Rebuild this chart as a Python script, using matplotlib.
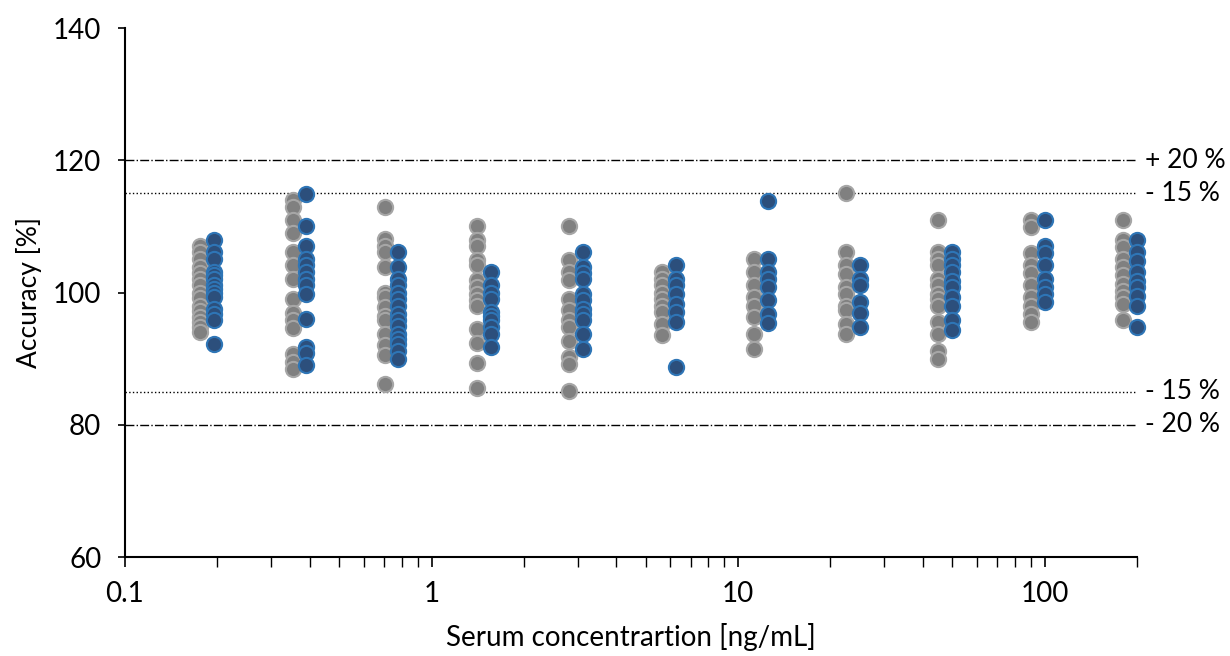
import matplotlib
matplotlib.use("Agg")
from matplotlib import pyplot as plt
from matplotlib.ticker import LogLocator, NullFormatter, FixedLocator, FixedFormatter
import numpy as np

plt.rcParams['font.family'] = ['Lato', 'DejaVu Sans']

# nominal concentrations (ng/mL)
conc_gray = [0.176, 0.352, 0.703, 1.406, 2.81, 5.63, 11.25, 22.5, 45, 90, 180]
conc_blue = [0.195, 0.39, 0.78, 1.56, 3.125, 6.25, 12.5, 25, 50, 100, 200]

# accuracy values (%) per concentration level
acc_gray = [
    [107.1, 106.1, 105.0, 103.9, 102.9, 102.0, 101.1, 100.0, 99.1, 98.0, 97.2, 96.3, 95.5, 94.8, 94.0],
    [114.0, 112.9, 111.0, 109.0, 106.1, 104.1, 102.1, 99.0, 96.9, 95.9, 94.7, 90.7, 89.5, 88.5],
    [113.0, 108.1, 107.1, 106.1, 103.9, 100.0, 99.3, 97.8, 96.5, 95.9, 93.8, 92.0, 90.5, 86.1],
    [110.0, 108.0, 107.0, 104.9, 104.1, 101.9, 100.8, 99.8, 98.9, 98.0, 94.5, 92.3, 89.3, 85.6],
    [110.0, 104.9, 103.1, 101.9, 99.0, 97.3, 95.8, 94.8, 92.7, 90.2, 89.2, 85.1],
    [103.1, 102.1, 101.1, 100.0, 99.0, 98.0, 97.0, 95.3, 93.5],
    [105.1, 103.1, 101.1, 99.3, 98.0, 96.3, 93.8, 91.5],
    [115.0, 106.1, 104.1, 102.8, 100.8, 99.8, 98.0, 97.3, 95.3, 93.8],
    [111.0, 106.1, 105.1, 104.1, 102.1, 101.1, 99.8, 99.0, 98.0, 95.5, 93.8, 91.2, 90.0],
    [111.0, 109.9, 105.9, 104.1, 102.9, 101.1, 99.3, 98.0, 96.8, 95.5],
    [111.0, 108.0, 106.9, 105.1, 103.9, 102.6, 101.3, 100.3, 99.3, 98.3, 95.8],
]
acc_blue = [
    [108.0, 106.1, 105.0, 103.1, 102.6, 102.1, 101.1, 100.5, 100.0, 99.3, 97.5, 96.8, 95.8, 92.2],
    [114.9, 110.0, 107.1, 105.1, 104.1, 103.1, 102.1, 101.1, 99.8, 96.0, 91.8, 90.8, 89.0],
    [106.1, 103.9, 102.1, 101.1, 100.0, 99.0, 98.0, 96.8, 95.8, 95.0, 93.8, 93.0, 92.2, 91.2, 90.0],
    [103.1, 101.1, 100.0, 99.0, 97.0, 96.5, 95.8, 94.8, 93.8, 91.7],
    [106.1, 103.9, 102.9, 102.1, 99.8, 98.8, 97.5, 96.8, 95.8, 93.8, 91.5],
    [104.1, 102.1, 101.1, 99.8, 98.3, 97.0, 95.5, 88.7],
    [113.9, 105.1, 103.1, 102.1, 100.8, 98.8, 96.8, 95.4],
    [104.1, 102.1, 101.1, 98.5, 96.9, 94.8],
    [106.1, 105.1, 104.1, 103.1, 101.8, 100.8, 99.3, 98.0, 95.8, 94.3],
    [111.0, 107.0, 105.9, 104.1, 102.1, 100.9, 99.8, 98.5],
    [108.0, 106.1, 104.8, 103.1, 101.8, 100.8, 99.5, 97.9, 94.8],
]

limits = [120, 115, 85, 80]
limit_labels = ['+ 20 %', '- 15 %', '- 15 %', '- 20 %']
limit_styles = ['dashdot', 'dotted', 'dotted', 'dashdot']

fig = plt.figure(figsize=(12.3, 6.56), dpi=100)
ax = fig.add_axes([0.1016, 0.1509, 0.8228, 0.8064])

for c, vals in zip(conc_gray, acc_gray):
    ax.scatter([c] * len(vals), vals, s=120, color='#808080', edgecolors='#a6a6a6',
               linewidths=1.5, zorder=3, clip_on=False)
for c, vals in zip(conc_blue, acc_blue):
    ax.scatter([c] * len(vals), vals, s=120, color='#2c4f7c', edgecolors='#2e75b6',
               linewidths=1.5, zorder=4, clip_on=False)

for y, lab, ls in zip(limits, limit_labels, limit_styles):
    ax.plot([0.1, 198], [y, y], color='black', linestyle=ls, linewidth=1, zorder=2)
    ax.text(1.008, y, lab, transform=ax.get_yaxis_transform(), va='center',
            ha='left', fontsize=19)

ax.set_xscale('log')
ax.set_xlim(0.1, 200)
ax.set_ylim(60, 140)
ax.set_yticks([60, 80, 100, 120, 140])
ax.xaxis.set_major_locator(FixedLocator([0.1, 1, 10, 100]))
ax.xaxis.set_major_formatter(FixedFormatter(['0.1', '1', '10', '100']))
ax.xaxis.set_minor_locator(LogLocator(base=10, subs=np.arange(2, 10)))
ax.xaxis.set_minor_formatter(NullFormatter())

ax.spines['top'].set_visible(False)
ax.spines['right'].set_visible(False)
ax.spines['left'].set_linewidth(1.5)
ax.spines['bottom'].set_linewidth(1.5)
ax.tick_params(axis='y', direction='out', length=5, width=1.2, labelsize=20, pad=12)
ax.tick_params(axis='x', which='major', direction='out', length=7, width=1.2,
               labelsize=20, pad=10)
ax.tick_params(axis='x', which='minor', direction='out', length=7, width=1)

ax.set_xlabel('Serum concentrartion [ng/mL]', fontsize=20, labelpad=12)
ax.set_ylabel('Accuracy [%]', fontsize=19, labelpad=8)

plt.savefig('out.png', dpi=100)
